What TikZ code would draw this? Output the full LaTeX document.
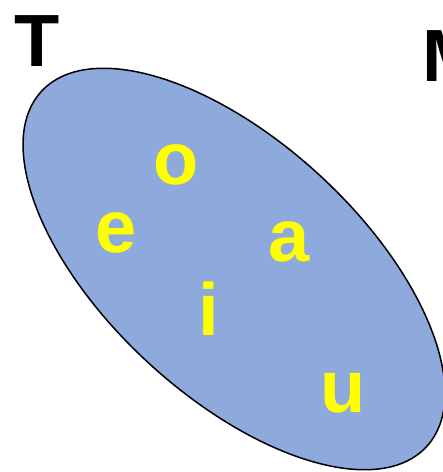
\documentclass[tikz,border=0pt]{standalone}
\usepackage{fontspec}
\setmainfont{Liberation Sans}
\definecolor{ellblue}{HTML}{8EA9DB}
\definecolor{vowel}{HTML}{FFFF00}
\begin{document}
\begin{tikzpicture}[x=1pt,y=-1pt,
  big/.style={font=\fontsize{74}{74}\selectfont\bfseries, inner sep=0pt, anchor=base},
  vow/.style={big, text=vowel},
  lab/.style={big, text=black}]
\useasboundingbox (0,0) rectangle (443,472);
\draw[fill=ellblue, line width=1.5pt, rotate around={-42.7:(234,269)}]
  (234,269) ellipse [x radius=262, y radius=127];
\node[vow] (o) at (176,184) {o};
\node[vow] (e) at (116,252) {e};
\node[vow] (a) at (289,261) {a};
\node[vow] (i) at (209,335) {i};
\node[vow] (u) at (343,412) {u};
\node[lab, anchor=base west] (T) at (14,66) {T};
\node[lab, anchor=base west] (M) at (422,81) {M};
\end{tikzpicture}
\end{document}
